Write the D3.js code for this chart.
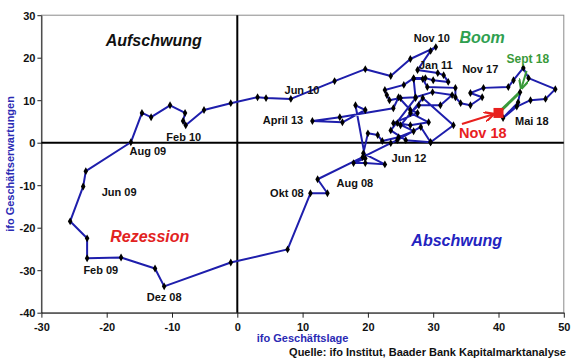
<!DOCTYPE html>
<html><head><meta charset="utf-8">
<script src="https://cdn.jsdelivr.net/npm/d3@7"></script>
<style>
body{margin:0;background:#fff}
svg{display:block;font-family:"Liberation Sans",Arial,sans-serif}
</style>
</head><body>
<svg id="chart" width="580" height="359"></svg>
<script>
// ifo Geschäftslage (x) and ifo Geschäftserwartungen (y), chronological
const lageValues = [29.6,28.1,24.5,23.5,19.2,12.3,13.8,11.2,7.7,-1.0,-11.2,-12.6,-17.8,-23.0,-23.0,-25.6,-23.6,-23.2,-16.3,
  -14.6,-13.2,-10.3,-8.0,-8.3,-7.9,-5.1,-1.0,3.1,4.4,8.2,14.9,19.6,23.5,26.5,30.4,29.6,27.6,
  30.7,31.6,32.3,30.0,28.8,27.0,25.5,22.6,22.9,23.3,25.0,27.3,29.9,32.9,31.1,27.8,26.5,29.3,26.5,24.5,27.0,24.7,22.2,21.5,20.0,19.3,22.6,
  19.6,17.8,19.6,18.1,19.6,16.1,11.5,15.7,23.9,24.7,26.5,27.6,23.9,25.0,28.4,33.1,29.6,25.8,23.5,27.3,27.0,28.4,29.1,33.4,33.4,
  34.2,35.7,37.5,35.7,37.7,41.5,42.3,43.8,44.6,48.7,47.2,44.9,42.8,40.7,43.0,43.3,40.0];
const erwartungValues = [0.1,3.7,0.6,-0.1,-3.4,-8.6,-11.9,-11.9,-25.1,-28.2,-33.8,-29.6,-27.0,-27.2,-22.5,-18.5,-10.3,-6.7,0.1,
  7.0,6.0,8.8,7.0,5.1,4.1,7.7,9.3,10.7,10.5,10.3,14.5,17.3,15.7,19.7,22.5,21.6,17.1,
  16.4,15.9,14.3,14.7,15.2,15.2,13.6,12.4,11.2,10.0,10.5,10.7,11.9,11.2,8.8,8.8,7.0,4.8,4.1,4.6,2.7,1.3,0.4,1.8,2.2,-2.5,-5.1,
  -4.8,-4.8,-3.7,8.8,7.7,4.8,5.1,6.0,8.1,10.7,7.7,7.0,4.6,4.1,10.5,4.1,0.1,0.6,2.9,10.5,15.0,15.0,13.1,12.9,10.7,
  9.3,8.8,10.7,11.7,12.9,13.1,14.7,17.6,15.2,12.6,10.3,10.0,8.5,5.8,9.5,11.9,7.0];
const xTicks = [-30,-20,-10,0,10,20,30,40,50];
const yTicks = [30,20,10,0,-10,-20,-30,-40];

// date annotations (anchor in data units)
const dateTexts = ["Nov 10","Jan 11","Nov 17","Mai 18","Jun 10","April 13","Feb 10","Aug 09","Jun 09","Feb 09","Dez 08","Okt 08","Aug 08","Jun 12"];
const dateX = [29.8,30.4,37.2,45.1,9.9,7.0,-8.2,-13.7,-18.1,-20.9,-11.2,7.6,18.0,26.3];
const dateY = [23.7,17.3,16.4,4.2,11.5,4.4,0.4,-2.9,-12.6,-30.9,-37.2,-12.8,-10.4,-4.5];

const phaseTexts = ["Aufschwung","Boom","Rezession","Abschwung"];
const phaseX = [-12.8,37.5,-13.4,33.6];
const phaseY = [22.8,23.5,-23.4,-24.3];
const phaseColors = ["#111111","#2fa050","#e2231f","#2323c0"];

const svg = d3.select("#chart");
const x = d3.scaleLinear().domain([-30,50]).range([41.4,563.8]);
const y = d3.scaleLinear().domain([-40,30]).range([312.7,15.2]);

// frame
svg.append("rect").attr("x",x(-30)).attr("y",y(30)).attr("width",x(50)-x(-30)).attr("height",y(-40)-y(30))
  .attr("fill","none").attr("stroke","#8a8a8a").attr("stroke-width",1);

// axes
const gx = svg.append("g").attr("transform",`translate(0,${y(-40)})`)
  .call(d3.axisBottom(x).tickValues(xTicks).tickFormat(d=>String(d)).tickSize(5).tickSizeOuter(0).tickPadding(6));
const gy = svg.append("g").attr("transform",`translate(${x(-30)},0)`)
  .call(d3.axisLeft(y).tickValues(yTicks).tickFormat(d=>String(d)).tickSize(4).tickSizeOuter(0).tickPadding(2));
[gx,gy].forEach(g=>{
  g.selectAll("text").attr("font-size",11).attr("font-weight","bold").attr("fill","#111")
   .attr("font-family","Liberation Sans, Arial, sans-serif");
  g.selectAll("line,path").attr("stroke","#222");
});
gy.selectAll("text").attr("dy","0.36em");

// zero lines
svg.append("line").attr("x1",x(0)).attr("x2",x(0)).attr("y1",y(30)).attr("y2",y(-40)).attr("stroke","#000").attr("stroke-width",2);
svg.append("line").attr("x1",x(-30)).attr("x2",x(50)).attr("y1",y(0)).attr("y2",y(0)).attr("stroke","#000").attr("stroke-width",2);

// axis titles
svg.append("text").attr("x",(x(-30)+x(50))/2).attr("y",342).attr("text-anchor","middle")
  .attr("font-size",11).attr("font-weight","bold").attr("fill","#2a2ab4").text("ifo Geschäftslage");
svg.append("text").attr("transform",`translate(14,${(y(30)+y(-40))/2}) rotate(-90)`).attr("text-anchor","middle")
  .attr("font-size",11).attr("font-weight","bold").attr("fill","#2a2ab4").text("ifo Geschäftserwartungen");
svg.append("text").attr("x",566).attr("y",356).attr("text-anchor","end")
  .attr("font-size",11).attr("font-weight","bold").attr("fill","#111").text("Quelle: ifo Institut, Baader Bank Kapitalmarktanalyse");

// data path
const pts = lageValues.map((v,i)=>[v,erwartungValues[i]]);
const line = d3.line().x(d=>x(d[0])).y(d=>y(d[1]));
svg.append("path").datum(pts.slice(0,-1)).attr("d",line).attr("fill","none")
  .attr("stroke","#1e1eac").attr("stroke-width",2).attr("stroke-linejoin","round");
svg.append("path").datum(pts.slice(-2)).attr("d",line).attr("fill","none")
  .attr("stroke","#3a9a3a").attr("stroke-width",3);
svg.append("g").selectAll("path").data(pts.slice(0,-1)).join("path")
  .attr("d",d3.symbol(d3.symbolDiamond,18))
  .attr("transform",d=>`translate(${x(d[0])},${y(d[1])})`).attr("fill","#000");
const last = pts[pts.length-1];
svg.append("rect").attr("x",x(last[0])-5).attr("y",y(last[1])-5).attr("width",10).attr("height",10).attr("fill","#e8201e");

// phase labels
svg.append("g").selectAll("text").data(phaseTexts).join("text")
  .attr("x",(d,i)=>x(phaseX[i])).attr("y",(d,i)=>y(phaseY[i])).attr("text-anchor","middle")
  .attr("font-size",16).attr("font-weight","bold").attr("font-style","italic")
  .attr("fill",(d,i)=>phaseColors[i]).text(d=>d);

// date labels
svg.append("g").selectAll("text").data(dateTexts).join("text")
  .attr("x",(d,i)=>x(dateX[i])).attr("y",(d,i)=>y(dateY[i])).attr("text-anchor","middle")
  .attr("font-size",11).attr("font-weight","bold").attr("fill","#111").text(d=>d);

// highlighted labels with arrows
const defs = svg.append("defs");
[["ag","#3a9a3a"],["ar","#e8201e"]].forEach(([id,c])=>{
  defs.append("marker").attr("id",id).attr("viewBox","0 0 10 10").attr("refX",9).attr("refY",5)
    .attr("markerWidth",5).attr("markerHeight",5).attr("orient","auto")
    .append("path").attr("d","M0,0L10,5L0,10").attr("fill","none").attr("stroke",c).attr("stroke-width",2.2);
});
svg.append("text").attr("x",x(44.5)).attr("y",y(18.8)).attr("text-anchor","middle")
  .attr("font-size",12).attr("font-weight","bold").attr("fill","#3a9a3a").text("Sept 18");
svg.append("line").attr("x1",x(44.3)).attr("y1",y(16.9)).attr("x2",x(43.5)).attr("y2",y(12.8))
  .attr("stroke","#3a9a3a").attr("stroke-width",2).attr("marker-end","url(#ag)");
svg.append("text").attr("x",x(37.6)).attr("y",y(1.1)).attr("text-anchor","middle")
  .attr("font-size",14.5).attr("font-weight","bold").attr("fill","#e8201e").text("Nov 18");
svg.append("line").attr("x1",x(34.4)).attr("y1",y(4.4)).attr("x2",x(39.2)).attr("y2",y(6.7))
  .attr("stroke","#e8201e").attr("stroke-width",2).attr("marker-end","url(#ar)");
</script>
</body></html>
